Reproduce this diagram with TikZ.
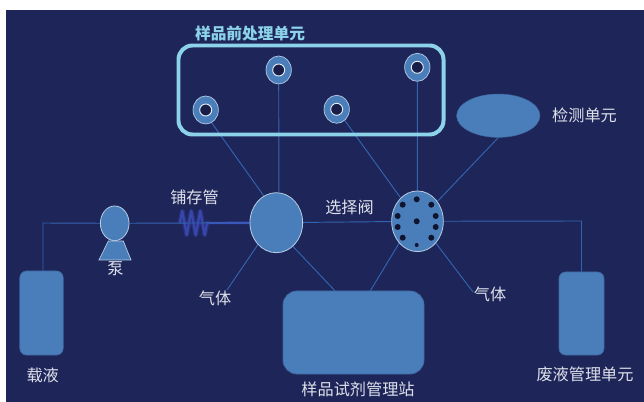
\documentclass[tikz,border=0pt]{standalone}
\usepackage{fontspec}
\setmainfont{Noto Sans CJK SC}
\usepackage{tikz}
\usetikzlibrary{
    arrows.meta,
    positioning,
    shapes.geometric,
    backgrounds,
    decorations.pathmorphing,
}
\definecolor{panelbg}{HTML}{1E2559}
\definecolor{unitblue}{HTML}{4A7EBB}
\definecolor{rimgrey}{HTML}{B4CBE2}
\definecolor{linkblue}{HTML}{3264B0}
\definecolor{framecyan}{HTML}{8CD3EA}
\definecolor{coilblue}{HTML}{3E4FC0}
\definecolor{holeblack}{HTML}{10142E}
\definecolor{textgrey}{HTML}{DDE1EA}

\begin{document}
\begin{tikzpicture}[
        x=0.03cm, y=-0.03cm,
        vessel/.style={
            rectangle, draw=unitblue!75!panelbg, line width=0.6pt, fill=unitblue,
            inner sep=0pt
        },
        ring/.style={
            ellipse, draw=rimgrey, line width=0.6pt, fill=unitblue,
            inner sep=0pt, minimum width=0.76cm, minimum height=0.84cm
        },
        ringhole/.style={
            circle, draw=white!85!unitblue, line width=0.8pt, fill=panelbg!80!black,
            inner sep=0pt, minimum size=0.36cm
        },
        hub/.style={
            ellipse, draw=rimgrey, line width=0.7pt, fill=unitblue, inner sep=0pt
        },
        port/.style={circle, fill=holeblack, inner sep=0pt, minimum size=0.18cm},
        link/.style={linkblue, line width=0.8pt},
        coil/.style={
            coilblue, line join=round, decorate,
            decoration={zigzag, amplitude=0.36cm, segment length=0.27cm}
        },
        caption/.style={text=textgrey, font=\fontsize{13.8pt}{15pt}\selectfont, inner sep=0pt},
    ]

    % ── Units ──
    \node[rectangle, rounded corners=0.42cm, draw=framecyan, line width=3.4pt,
        minimum width=7.95cm, minimum height=2.67cm, inner sep=0pt] (frame) at (311,90) {};
    \node[ring] (ringa) at (205.7,110) {};
    \node[ring] (ringb) at (278.7,70) {};
    \node[ring] (ringc) at (336.7,109.3) {};
    \node[ring] (ringd) at (417.3,67.3) {};
    \foreach \r in {ringa,ringb,ringc,ringd}
        \node[ringhole] (\r hole) at (\r) {};

    \node[hub, minimum width=1.58cm, minimum height=1.8cm] (hubl) at (276.3,222.7) {};
    \node[hub, minimum width=1.55cm, minimum height=1.82cm] (hubr) at (417.5,221.3) {};
    \node[ellipse, fill=unitblue, draw=unitblue!75!panelbg, inner sep=0pt,
        minimum width=2.5cm, minimum height=1.3cm] (detector) at (498.3,115.7) {};
    \node[vessel, rounded corners=0.2cm, minimum width=1.3cm, minimum height=2.52cm] (carrier) at (41.5,313) {};
    \node[vessel, rounded corners=0.2cm, minimum width=1.35cm, minimum height=2.49cm] (waste) at (581.5,313.5) {};
    \node[vessel, rounded corners=0.42cm, minimum width=4.23cm, minimum height=2.49cm] (station) at (353.5,332.5) {};

    % ── Pump ──
    \node[hub, minimum width=0.86cm, minimum height=1.04cm] (pumphead) at (114.7,223.3) {};
    \draw[draw=rimgrey, line width=0.6pt, fill=unitblue]
        (108.3,241) -- (123.3,241) -- (131,260) -- (99,260) -- cycle;

    % ── Valve ports ──
    \foreach \i/\px/\py in {1/416.7/199.3, 2/402.7/204.7, 3/431.3/204.7, 4/397.7/216,
        5/435.7/216, 6/397.7/227, 7/435.7/227, 8/402.7/237.7, 9/431.3/237.7, 10/416.7/221.3}
        \node[port] (port\i) at (\px,\py) {};
    \node[port, minimum size=0.12cm] (port11) at (416.7,245) {};

    % ── Free ends ──
    \coordinate (corner) at (43,223);
    \coordinate (drain) at (581.5,221);
    \coordinate (gasl) at (227,290);
    \coordinate (gasr) at (473,292);
    \coordinate (coilin) at (180,223);
    \coordinate (coilout) at (210,223);

    % ── Links ──
    \begin{scope}[on background layer]
        \fill[white] (0,0) rectangle (644,402);
        \fill[panelbg] (6,10) rectangle (644,402);
        \draw[coil, line width=4pt, opacity=0.35] (coilin) -- (coilout);
        \draw[coil, line width=1.8pt, opacity=0.75] (coilin) -- (coilout);
        \draw[coilblue, line width=2pt] (coilout) -- (hubl);
        \draw[link] (corner |- carrier.north) -- (corner) -- (pumphead);
        \draw[link] (pumphead) -- (hubl);
        \draw[link] (hubl) -- (hubr);
        \draw[link] (hubr) -- (drain) -- (waste.north);
        \draw[link] (ringa.-65) -- (hubl.115);
        \draw[link] (ringb.south) -- (hubl.85);
        \draw[link] (ringc) -- (hubr);
        \draw[link] (ringd) -- (hubr);
        \draw[link] (detector.south) -- (hubr.45);
        \draw[link] (hubl.230) -- (gasl);
        \draw[link] (hubl.-55) -- (station.114);
        \draw[link] (hubr.230) -- (station.68);
        \draw[link] (hubr.-50) -- (gasr);
    \end{scope}

    % ── Labels ──
    \node[caption, text=framecyan, font=\fontsize{13.4pt}{15pt}\selectfont\bfseries] (titlelabel) at (250,34) {样品前处理单元};
    \node[caption] (tubelabel) at (194.5,197) {铺存管};
    \node[caption] (valvelabel) at (349.5,207) {选择阀};
    \node[caption] (detectorlabel) at (584.5,115) {检测单元};
    \node[caption] (pumplabel) at (115.5,269) {泵};
    \node[caption] (gasllabel) at (215,298) {气体};
    \node[caption] (gasrlabel) at (490,294) {气体};
    \node[caption] (carrierlabel) at (42.7,375) {载液};
    \node[caption] (stationlabel) at (358,389.5) {样品试剂管理站};
    \node[caption] (wastelabel) at (585,374) {废液管理单元};

    \path[use as bounding box] (0,0) rectangle (644,402);
    \end{tikzpicture}
\end{document}
